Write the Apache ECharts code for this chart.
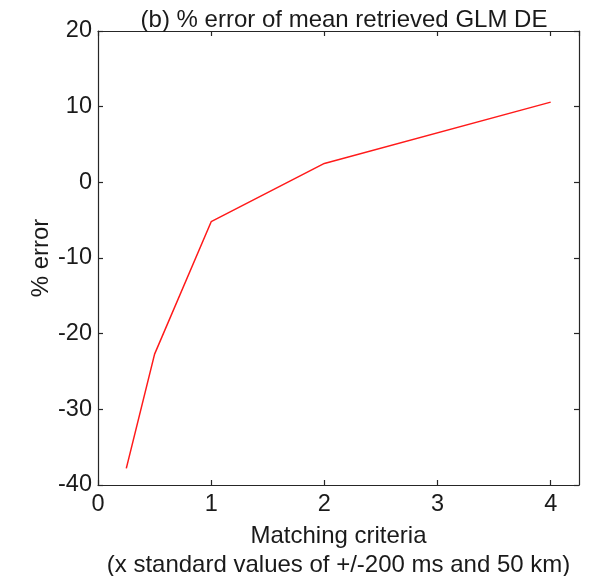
<!DOCTYPE html>
<html>
<head>
<meta charset="utf-8">
<script src="https://cdn.jsdelivr.net/npm/echarts@6/dist/echarts.min.js"></script>
<style>
  html, body { margin: 0; padding: 0; background: #fff; }
  #chart { width: 598px; height: 576px; }
</style>
</head>
<body>
<div id="chart"></div>
<script>
// data
var matchX = [0.25, 0.5, 1, 2, 4];
var pctError = [-37.8, -22.7, -5.2, 2.5, 10.6];

var titleText = '(b) % error of mean retrieved GLM DE';
var xName = 'Matching criteria\n(x standard values of +/-200 ms and 50 km)';
var yName = '% error';

var fontFam = 'Liberation Sans, Arial, Helvetica, sans-serif';
var axisCol = '#262626';
var txtCol = '#1a1a1a';

var dom = document.getElementById('chart');
var myChart = echarts.init(dom);

var points = [];
for (var i = 0; i < matchX.length; i++) {
  points.push([matchX[i], pctError[i]]);
}

// inside ticks, box on all sides like matlab
function boxAxis(pos, show, opts) {
  var a = {
    type: 'value',
    position: pos,
    splitLine: { show: false },
    axisLine: { show: true, onZero: false, lineStyle: { color: axisCol, width: 1.2 } },
    axisTick: { show: true, inside: true, length: 5, lineStyle: { color: axisCol, width: 1.2 } },
    axisLabel: { show: show, color: txtCol, fontSize: 23.5, fontFamily: fontFam, showMaxLabel: pos == 'bottom' || pos == 'top' ? false : true }
  };
  for (var k in opts) a[k] = opts[k];
  return a;
}

var option = {
  animation: false,
  title: {
    text: titleText,
    left: 339,
    textAlign: 'center',
    top: 3,
    textStyle: { fontWeight: 'normal', fontSize: 24, color: txtCol, fontFamily: fontFam }
  },
  grid: { left: 98, right: 19, top: 31, bottom: 91, outerBoundsMode: 'none' },
  xAxis: [
    boxAxis('bottom', true, {
      min: 0, max: 4.25, interval: 1,
      name: xName,
      nameLocation: 'middle',
      nameGap: 37,
      nameMoveOverlap: false,
      nameTextStyle: { fontSize: 24, color: txtCol, fontFamily: fontFam, lineHeight: 29 }
    }),
    boxAxis('top', false, { min: 0, max: 4.25, interval: 1 })
  ],
  yAxis: [
    boxAxis('left', true, {
      min: -40, max: 20, interval: 10,
      name: yName,
      nameLocation: 'middle',
      nameGap: 45,
      nameMoveOverlap: false,
      nameTextStyle: { fontSize: 24, color: txtCol, fontFamily: fontFam }
    }),
    boxAxis('right', false, { min: -40, max: 20, interval: 10 })
  ],
  series: [{
    type: 'line',
    data: points,
    showSymbol: false,
    symbol: 'none',
    lineStyle: { color: '#ff1a1a', width: 1.5 }
  }]
};
// label margins
option.xAxis[0].axisLabel.margin = 8;
option.yAxis[0].axisLabel.margin = 6;

myChart.setOption(option);
</script>
</body>
</html>
